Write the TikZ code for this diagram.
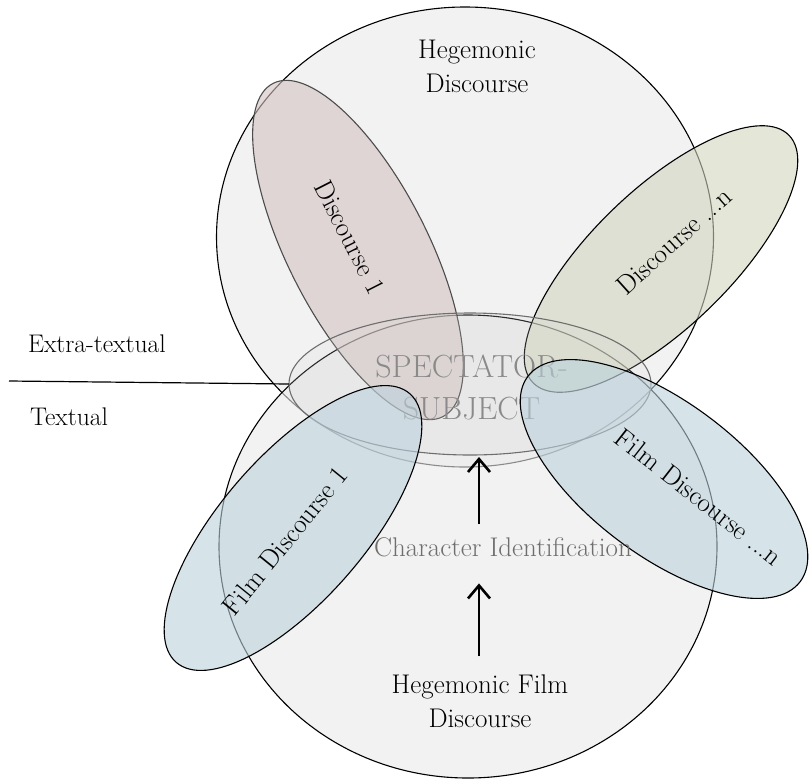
\documentclass[tikz,border=0pt]{standalone}
\usetikzlibrary{shapes.geometric,arrows.meta}
\definecolor{circfill}{RGB}{233,233,233}
\definecolor{pinkfill}{RGB}{212,194,194}
\definecolor{olivefill}{RGB}{210,213,190}
\definecolor{bluefill}{RGB}{187,210,220}
\definecolor{specline}{RGB}{110,110,110}
\definecolor{spectext}{RGB}{138,138,138}
\definecolor{citext}{RGB}{110,110,110}
\begin{document}
\begin{tikzpicture}[x=1pt,y=-1pt,
  blob/.style={ellipse, inner sep=0pt, outer sep=0pt, fill opacity=0.6, line width=1.1pt},
  lbl/.style={inner sep=0pt, outer sep=0pt, font=\fontsize{27}{34}\selectfont, align=center},
  side/.style={inner sep=0pt, outer sep=0pt, font=\fontsize{25.5}{30}\selectfont},
  arr/.style={line width=2.6pt, -{Straight Barb[length=13pt,width=22pt]}}]
\useasboundingbox (0,0) rectangle (810,782);
% big circles
\node[blob, draw=black, fill=circfill, minimum width=497pt, minimum height=460pt] (hd) at (465,237) {};
\node[blob, draw=black, fill=circfill, minimum width=498pt, minimum height=463pt] (hfdc) at (468,546.5) {};
% discourses
\node[blob, draw=black!70, fill=pinkfill, minimum width=374pt, minimum height=140pt, rotate=-63] (d1) at (358,250) {};
\node[blob, draw=black, fill=olivefill, minimum width=356pt, minimum height=138pt, rotate=44] (dn) at (661,259) {};
% spectator
\node[blob, draw=specline, fill=gray!30, fill opacity=0.2, minimum width=362pt, minimum height=142pt] (spec) at (470,384) {};
\node[lbl, anchor=north, text=spectext, font=\fontsize{32}{42}\selectfont] (st) at (471.5,355) {SPECTATOR-\\SUBJECT};
% film discourses
\node[blob, draw=black, fill=bluefill, minimum width=356pt, minimum height=144pt, rotate=49] (f1) at (293,528) {};
\node[blob, draw=black, fill=bluefill, minimum width=341pt, minimum height=153pt, rotate=-37] (fn) at (664,479) {};
% labels
\node[lbl, anchor=north] (hdt) at (477,39.6) {Hegemonic\\Discourse};
\node[lbl, rotate=-63] (d1t) at (350,237) {Discourse 1};
\node[lbl, rotate=42] (dnt) at (674,241) {Discourse ...n};
\node[lbl, rotate=51] (f1t) at (285,541) {Film Discourse 1};
\node[lbl, rotate=-38] (fnt) at (699,497) {Film Discourse ...n};
\node[lbl, anchor=base, text=citext] (ci) at (503,556) {Character Identification};
\node[lbl, anchor=north] (hfd) at (480,674.3) {Hegemonic Film\\Discourse};
\node[side, anchor=base west] (et) at (28,352) {Extra-textual};
\node[side, anchor=base west] (tx) at (30,425) {Textual};
% separator
\coordinate (lineend) at (9,381);
\draw[line width=1.2pt] (lineend) -- (spec.west);
% arrows
\draw[arr, shorten <=18pt, shorten >=27pt] ([xshift=-1pt]hfd.north) -- ([xshift=-1pt]hfd.north |- ci.south);
\draw[arr, shorten <=13pt, shorten >=2pt] ([xshift=-1pt]ci.north -| hfd.north) -- ([xshift=-1pt]hfd.north |- spec.south);
\end{tikzpicture}
\end{document}
